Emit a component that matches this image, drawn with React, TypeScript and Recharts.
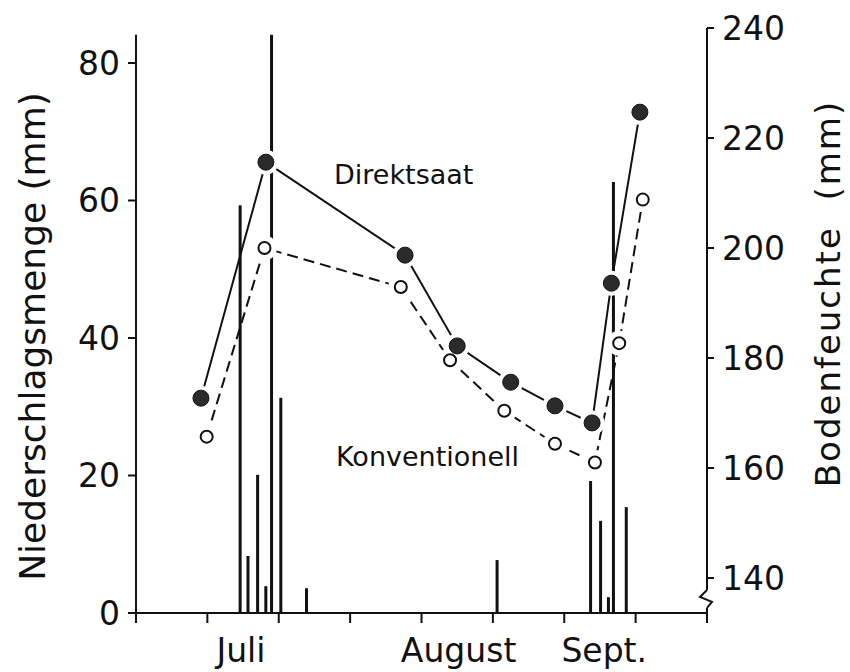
import {
  ComposedChart,
  Bar,
  Line,
  Scatter,
  XAxis,
  YAxis,
  ReferenceDot,
  ReferenceLine,
} from 'recharts';

// Tage ab Beginn der Zeitachse (ein Teilstrich = 10 Tage)
const dayTicks = [0, 10, 20, 30, 40, 50, 60, 70, 80];
const monthNames = ['Juli', 'August', 'Sept.'];
const monthDays = [14.7, 45.2, 65.6];

// Niederschlag (mm), linke Achse
const rainDays = [14.6, 15.7, 17.05, 18.2, 19.0, 20.3, 23.9, 50.6, 63.7, 65.1, 66.2, 66.9, 68.7];
const rainMm = [59.3, 8.3, 20.1, 3.9, 84.1, 31.3, 3.6, 7.7, 19.2, 13.4, 2.3, 62.7, 15.4];

// Bodenfeuchte (mm), rechte Achse
const direktDays = [9.1, 18.2, 37.7, 45.0, 52.5, 58.7, 63.9, 66.6, 70.6];
const direktMm = [172.7, 215.6, 198.7, 182.2, 175.6, 171.3, 168.2, 193.6, 224.7];
const konvDays = [9.9, 18.0, 37.1, 44.0, 51.6, 58.7, 64.3, 67.7, 71.0];
const konvMm = [165.7, 200.0, 192.9, 179.6, 170.4, 164.4, 161.0, 182.7, 208.8];

const leftTicks = [0, 20, 40, 60, 80];
const rightTicks = [140, 160, 180, 200, 220, 240];

const rain = rainDays.map((day, i) => ({ day, mm: rainMm[i] }));
const direkt = direktDays.map((day, i) => ({ day, v: direktMm[i] }));
const konv = konvDays.map((day, i) => ({ day, v: konvMm[i] }));

const FONT = '"DejaVu Sans", sans-serif';
const INK = '#111';

// weißer Hof um die Messpunkte, damit die Linien vor den Kreisen enden
function Halo(props: any) {
  const { cx, cy } = props;
  if (cx == null || cy == null) return <g />;
  return <circle cx={cx} cy={cy} r={12.5} fill="#fff" />;
}

function FilledDot(props: any) {
  const { cx, cy } = props;
  if (cx == null || cy == null) return <g />;
  return <circle cx={cx} cy={cy} r={8} fill="#2b2b2b" stroke="#111" strokeWidth={1} />;
}

function OpenDot(props: any) {
  const { cx, cy } = props;
  if (cx == null || cy == null) return <g />;
  return <circle cx={cx} cy={cy} r={6} fill="#fff" stroke={INK} strokeWidth={2} />;
}

// schmaler Strich je Regentag
function RainStick(props: any) {
  const { x, y, width, height } = props;
  if (height == null || height <= 0) return <g />;
  return <rect x={x + width / 2 - 1.5} y={y} width={3} height={height} fill={INK} />;
}

function MonthTick(props: any) {
  const { x, y, payload } = props;
  const i = monthDays.indexOf(payload.value);
  return (
    <text x={x} y={y} dy={35} textAnchor="middle" fontSize={33} fontFamily={FONT} fill={INK}>
      {monthNames[i]}
    </text>
  );
}

// Achsenbruch an der rechten Achse
function AxisBreak(props: any) {
  const { cx, cy } = props;
  return (
    <g>
      <rect x={cx - 3} y={cy - 9} width={6} height={18} fill="#fff" />
      <path
        d={`M${cx},${cy - 9} L${cx - 7},${cy - 2} L${cx + 5},${cy + 3} L${cx},${cy + 9}`}
        fill="none"
        stroke={INK}
        strokeWidth={2}
      />
    </g>
  );
}

export default function App() {
  return (
    <div style={{ position: 'absolute', left: 0, top: 0, background: '#fff' }}>
      <ComposedChart
        width={850}
        height={672}
        data={rain}
        margin={{ top: 28, right: 0, bottom: 0, left: 0 }}
      >
        <XAxis
          dataKey="day"
          type="number"
          domain={[0, 80]}
          ticks={dayTicks}
          allowDataOverflow
          height={14}
          tickSize={10}
          tick={() => <g />}
          stroke={INK}
          strokeWidth={2}
        />
        <XAxis
          xAxisId="month"
          dataKey="day"
          type="number"
          domain={[0, 80]}
          ticks={monthDays}
          allowDataOverflow
          height={45}
          tickSize={0}
          tickMargin={0}
          tickLine={false}
          axisLine={false}
          tick={<MonthTick />}
        />
        <YAxis
          yAxisId="left"
          type="number"
          domain={[0, 85.09]}
          ticks={leftTicks}
          allowDataOverflow
          width={136}
          tickSize={8}
          tickMargin={8}
          axisLine={false}
          stroke={INK}
          strokeWidth={2}
          tick={{ fontSize: 33, fontFamily: FONT, fill: INK }}
          label={{
            value: 'Niederschlagsmenge (mm)',
            angle: -90,
            position: 'center',
            dx: -36,
            dy: 16,
            style: { fontSize: 36, fontFamily: FONT, fill: INK },
          }}
        />
        <YAxis
          yAxisId="right"
          orientation="right"
          type="number"
          domain={[133.64, 240]}
          ticks={rightTicks}
          allowDataOverflow
          width={143}
          tickSize={7}
          tickMargin={8}
          stroke={INK}
          strokeWidth={2}
          tick={{ fontSize: 33, fontFamily: FONT, fill: INK }}
          label={{
            value: 'Bodenfeuchte\u00a0\u00a0(mm)',
            angle: -90,
            position: 'center',
            dx: 49,
            dy: -27,
            style: { fontSize: 34, fontFamily: FONT, fill: INK, letterSpacing: 2 },
          }}
        />

        {/* linke Achsenlinie nur bis zum höchsten Niederschlagswert */}
        <ReferenceLine
          yAxisId="left"
          segment={[
            { x: 0, y: 0 },
            { x: 0, y: Math.max(...rainMm) },
          ]}
          stroke={INK}
          strokeWidth={2}
        />

        <Line
          yAxisId="right"
          data={konv}
          dataKey="v"
          type="linear"
          stroke={INK}
          strokeWidth={2}
          strokeDasharray="11 6"
          dot={false}
          activeDot={false}
          isAnimationActive={false}
        />
        <Line
          yAxisId="right"
          data={direkt}
          dataKey="v"
          type="linear"
          stroke={INK}
          strokeWidth={2}
          dot={false}
          activeDot={false}
          isAnimationActive={false}
        />
        <Scatter yAxisId="right" data={konv} dataKey="v" shape={<Halo />} isAnimationActive={false} />
        <Scatter yAxisId="right" data={direkt} dataKey="v" shape={<Halo />} isAnimationActive={false} />
        <Bar yAxisId="left" dataKey="mm" shape={<RainStick />} isAnimationActive={false} />
        <Scatter yAxisId="right" data={konv} dataKey="v" shape={<OpenDot />} isAnimationActive={false} />
        <Scatter yAxisId="right" data={direkt} dataKey="v" shape={<FilledDot />} isAnimationActive={false} />

        <ReferenceDot yAxisId="right" x={80} y={136.2} shape={<AxisBreak />} />
      </ComposedChart>

      <div
        style={{
          position: 'absolute',
          left: 334,
          top: 159,
          fontFamily: FONT,
          fontSize: 27,
          color: INK,
          whiteSpace: 'nowrap',
        }}
      >
        Direktsaat
      </div>
      <div
        style={{
          position: 'absolute',
          left: 336,
          top: 441,
          fontFamily: FONT,
          fontSize: 27,
          color: INK,
          whiteSpace: 'nowrap',
        }}
      >
        Konventionell
      </div>
    </div>
  );
}
